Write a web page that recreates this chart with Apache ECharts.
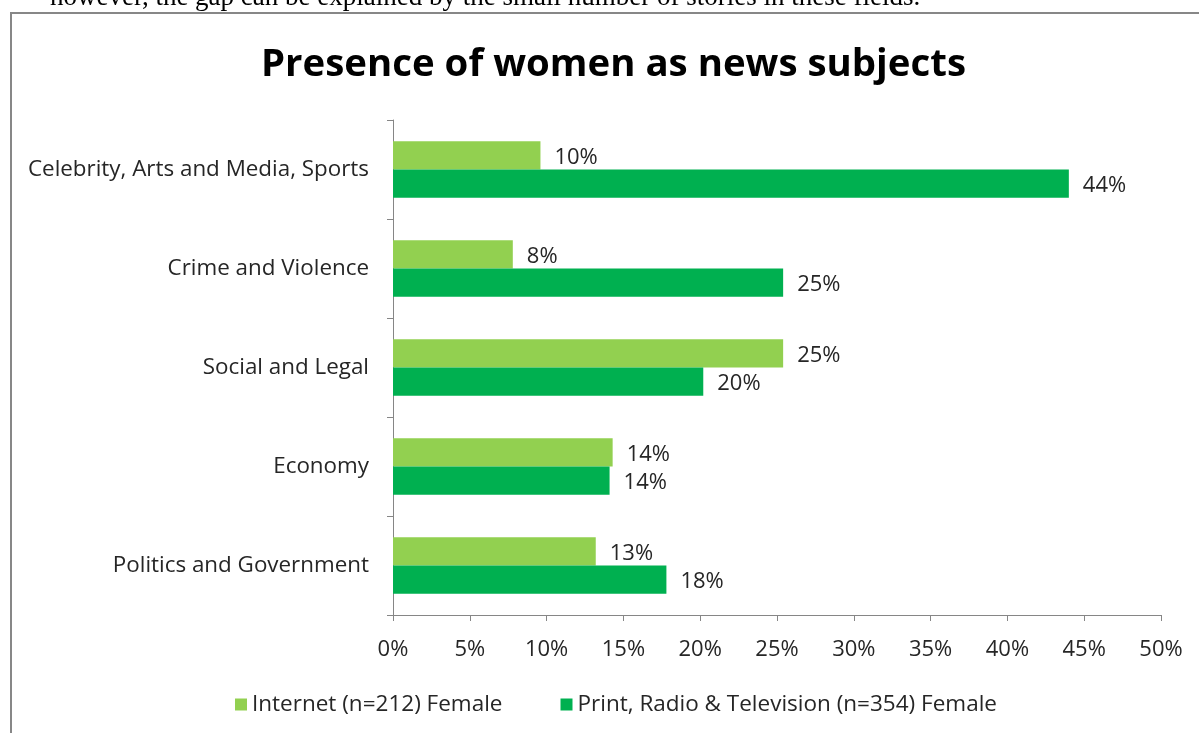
<!DOCTYPE html>
<html><head><meta charset="utf-8">
<script src="https://cdn.jsdelivr.net/npm/echarts@6/dist/echarts.min.js"></script>
<style>html,body{margin:0;padding:0;background:#fff}#c{width:1199px;height:733px}</style>
</head><body><div id="c"></div>
<script>
const categories = ["Celebrity, Arts and Media, Sports", "Crime and Violence", "Social and Legal", "Economy", "Politics and Government"];
const internetFemale = [9.6, 7.8, 25.4, 14.3, 13.2];
const printRadioTvFemale = [44.0, 25.4, 20.2, 14.1, 17.8];
const seriesNames = ["Internet (n=212) Female", "Print, Radio & Television (n=354) Female"];
const titleText = "Presence of women as news subjects";
const aboveText = "however, the gap can be explained by the small number of stories in these fields.";

const chart = echarts.init(document.getElementById('c'));
const font = "'Open Sans', sans-serif";
const fs = 22;
const lbl = {show: true, position: 'right', distance: 14, color: '#262626', fontSize: fs, fontFamily: font,
  offset: [0, 2], formatter: p => Math.round(p.value) + '%'};
chart.setOption({
  animation: false,
  backgroundColor: '#fff',
  title: {text: titleText, left: 256, top: 41, textStyle: {fontFamily: font, fontWeight: 'bold', fontSize: 38.4, color: '#000'}},
  graphic: [
    {type: 'rect', shape: {x: 11, y: 13, width: 1300, height: 900}, style: {fill: 'none', stroke: '#878787', lineWidth: 2}, silent: true},
    {type: 'text', left: 50, top: -16, style: {text: aboveText, fontFamily: "'Liberation Serif', serif", fontSize: 27, fill: '#000'}}
  ],
  legend: {bottom: 12, left: 230, itemWidth: 12, itemHeight: 12, itemGap: 58, icon: 'rect',
    textStyle: {fontFamily: font, fontSize: 22.5, color: '#262626'}, data: seriesNames},
  grid: {left: 393, right: 38, top: 120, bottom: 118},
  xAxis: {type: 'value', min: 0, max: 50, interval: 5,
    axisLabel: {formatter: v => v + '%', fontFamily: font, fontSize: fs, color: '#262626', margin: 24},
    axisLine: {show: true, lineStyle: {color: '#868686'}}, axisTick: {show: true, length: 6, lineStyle: {color: '#868686'}},
    splitLine: {show: false}},
  yAxis: {type: 'category', inverse: true, data: categories,
    axisLabel: {fontFamily: font, fontSize: 22.4, color: '#262626', margin: 24},
    axisLine: {show: true, lineStyle: {color: '#868686'}}, axisTick: {show: true, length: 6, lineStyle: {color: '#868686'}}},
  series: [
    {name: seriesNames[0], type: 'bar', data: internetFemale, itemStyle: {color: '#92D050'}, barGap: '0%', barCategoryGap: '43%', label: lbl},
    {name: seriesNames[1], type: 'bar', data: printRadioTvFemale, itemStyle: {color: '#00B050'}, barGap: '0%', barCategoryGap: '43%', label: lbl}
  ]
});
</script></body></html>
